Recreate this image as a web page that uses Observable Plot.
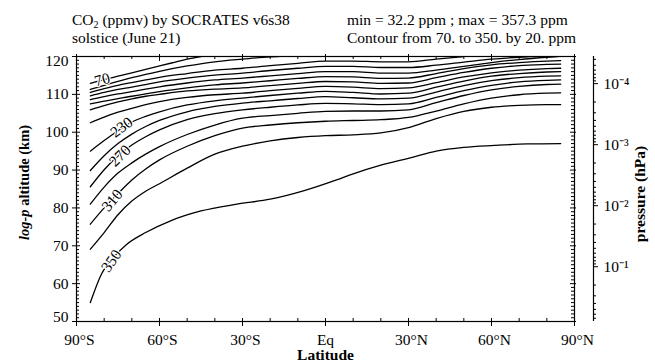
<!DOCTYPE html>
<html><head><meta charset="utf-8">
<script src="https://cdn.jsdelivr.net/npm/d3@7"></script>
<script src="https://cdn.jsdelivr.net/npm/@observablehq/plot@0.6"></script>
<style>
body{margin:0;background:#fff;font-family:'Liberation Serif',serif;}
#wrap{position:relative;width:655px;height:362px;overflow:hidden;}
#chart{position:absolute;left:0;top:0;}
.hd{position:absolute;font-size:15.5px;line-height:18px;color:#000;white-space:nowrap;z-index:2;}
.hd sub{font-size:10px;line-height:0;vertical-align:-3px;}
</style></head><body>
<div id="wrap">
<div id="chart"></div>
<div class="hd" style="left:72px;top:11px">CO<sub>2</sub> (ppmv) by SOCRATES v6s38<br>solstice (June 21)</div>
<div class="hd" style="left:347px;top:11px">min = 32.2 ppm ; max = 357.3 ppm<br>Contour from 70. to 350. by 20. ppm</div>
</div>
<script>
// ---- data ----
const latDomain = [-90, 90];
const altDomain = [50, 120];
const levels = [70, 90, 110, 130, 150, 170, 190, 210, 230, 250, 270, 290, 310, 330, 350];

const c70 = [[-85,112.9],[-80,113.9],[-75,114.8],[-70,115.7],[-65,116.6],[-60,117.5],[-55,118.4],[-50,119.3],[-45,120.0]];
const c90 = [[-85,111.3],[-80,112.4],[-75,113.4],[-70,114.4],[-65,115.3],[-60,116.1],[-50,117.5],[-40,118.6],[-30,119.3],[-20,119.9],[-17,120.0]];
const c110 = [[-85,110.5],[-80,111.5],[-75,112.4],[-70,113.1],[-65,113.8],[-60,114.5],[-50,115.5],[-40,116.4],[-30,116.9],[-20,117.6],[-10,118.2],[0,118.8],[10,118.8],[20,118.6],[30,118.6],[40,119.3],[50,120.0]];
const c130 = [[-85,109.6],[-80,110.5],[-75,111.3],[-70,111.9],[-65,112.6],[-60,113.3],[-50,114.3],[-40,115.1],[-30,115.6],[-20,116.3],[-10,116.9],[0,117.4],[10,117.4],[20,117.1],[30,117.1],[40,117.7],[50,118.5],[60,119.3],[70,119.8],[76,120.0]];
const c150 = [[-85,108.6],[-80,109.4],[-75,110.1],[-70,110.7],[-65,111.4],[-60,112.0],[-50,113.0],[-40,113.8],[-30,114.3],[-20,114.9],[-10,115.5],[0,116.0],[10,116.0],[20,115.6],[30,115.6],[40,116.4],[50,117.4],[60,118.4],[70,119.2],[80,119.8],[84,120.0]];
const c170 = [[-85,107.5],[-80,108.2],[-75,108.9],[-70,109.5],[-65,110.1],[-60,110.7],[-50,111.7],[-40,112.5],[-30,113.0],[-20,113.6],[-10,114.2],[0,114.7],[10,114.6],[20,114.2],[30,114.3],[40,115.5],[50,116.8],[60,117.8],[70,118.4],[80,118.8],[85,118.9]];
const c190 = [[-85,105.9],[-80,107.0],[-75,108.0],[-70,108.8],[-65,109.5],[-60,110.0],[-50,110.9],[-40,111.4],[-30,111.7],[-20,112.3],[-10,112.9],[0,113.4],[10,113.3],[20,112.9],[30,113.0],[40,114.4],[50,115.8],[60,116.9],[70,117.6],[80,117.9],[85,118.0]];
const c210 = [[-85,102.5],[-80,104.0],[-75,105.3],[-70,106.3],[-65,107.3],[-60,108.1],[-50,109.2],[-40,109.9],[-30,110.3],[-20,111.0],[-10,111.6],[0,112.1],[10,111.9],[20,111.5],[30,111.7],[40,113.1],[50,114.6],[60,115.7],[70,116.4],[80,116.8],[85,116.9]];
const c230 = [[-85,95.0],[-80,97.8],[-75,100.4],[-70,102.7],[-65,104.2],[-60,105.4],[-50,107.2],[-40,108.3],[-30,109.0],[-20,109.7],[-10,110.3],[0,110.8],[10,110.5],[20,110.1],[30,110.3],[40,111.9],[50,113.5],[60,114.8],[70,115.5],[80,115.9],[85,116.0]];
const c250 = [[-85,89.9],[-80,93.8],[-75,97.0],[-70,99.5],[-65,101.5],[-60,103.1],[-50,105.4],[-40,106.8],[-30,107.7],[-20,108.3],[-10,108.9],[0,109.4],[10,109.1],[20,108.8],[30,109.0],[40,110.6],[50,112.3],[60,113.6],[70,114.4],[80,114.8],[85,114.9]];
const c270 = [[-85,85.6],[-80,90.1],[-75,93.7],[-70,96.6],[-65,98.8],[-60,100.6],[-50,103.3],[-40,104.9],[-30,105.9],[-20,106.6],[-10,107.2],[0,107.6],[10,107.5],[20,107.3],[30,107.5],[40,109.2],[50,111.0],[60,112.4],[70,113.3],[80,113.7],[85,113.8]];
const c290 = [[-85,81.0],[-80,85.5],[-75,89.2],[-70,91.9],[-65,94.2],[-60,96.2],[-50,99.4],[-40,101.9],[-30,103.7],[-20,104.4],[-10,105.0],[0,105.5],[10,105.6],[20,105.6],[30,105.9],[40,107.8],[50,109.7],[60,111.2],[70,112.1],[80,112.6],[85,112.7]];
const c310 = [[-85,75.7],[-80,80.0],[-75,83.8],[-70,87.4],[-65,90.3],[-60,92.7],[-50,96.3],[-40,99.1],[-30,101.1],[-20,101.9],[-10,102.5],[0,102.9],[10,103.1],[20,103.3],[30,103.9],[40,105.6],[50,107.5],[60,109.0],[70,109.9],[80,110.3],[85,110.4]];
const c330 = [[-85,69.1],[-80,73.5],[-75,78.2],[-70,81.8],[-65,84.4],[-60,86.4],[-50,90.5],[-40,94.2],[-30,96.3],[-20,97.7],[-10,98.6],[0,99.1],[10,99.3],[20,99.8],[30,101.2],[40,103.6],[50,105.5],[60,106.6],[70,107.1],[80,107.3],[85,107.3]];
const c350 = [[-85,55.0],[-81,62.5],[-76.5,67.0],[-72,70.3],[-65,73.5],[-56,76.6],[-45,79.2],[-32,81.0],[-20,82.3],[-8,84.5],[4,87.4],[10,89.0],[20,91.3],[31,93.3],[40,95.0],[50,96.0],[61,96.5],[73,96.9],[85,97.0]];
const contourLines = [c70,c90,c110,c130,c150,c170,c190,c210,c230,c250,c270,c290,c310,c330,c350];

const labelLevels = [70, 230, 270, 310, 350];
const labelLats   = [-80.7, -73.7, -74.3, -77.1, -77.4];
const labelAlts   = [113.9, 101.3, 93.8, 82.0, 66.0];
const labelAngles = [-15, -37, -45, -50, -55];

const latTicks = [-90, -60, -30, 0, 30, 60, 90];
const latTickLabels = ["90°S", "60°S", "30°S", "Eq", "30°N", "60°N", "90°N"];
const latMinor = [-80, -70, -50, -40, -20, -10, 10, 20, 40, 50, 70, 80];
const altTicks = [50, 60, 70, 80, 90, 100, 110, 120];
const altMinor = d3.range(51, 120).filter(v => v % 10 !== 0);
const pMajor = [1e-4, 1e-3, 1e-2, 1e-1];
const pLabels = ["10⁻⁴", "10⁻³", "10⁻²", "10⁻¹"];
const pMinor = [4e-5,5e-5,6e-5,7e-5,8e-5,9e-5, 2e-4,3e-4,4e-4,5e-4,6e-4,7e-4,8e-4,9e-4,
                2e-3,3e-3,4e-3,5e-3,6e-3,7e-3,8e-3,9e-3, 2e-2,3e-2,4e-2,5e-2,6e-2,7e-2,8e-2,9e-2,
                0.2,0.3,0.4,0.5,0.6,0.7];
const scaleHeight = 7; // km, log-p altitude = H ln(1000 hPa / p)
const pAlt = p => scaleHeight * Math.log(1000 / p);

// ---- build ----
const contourData = contourLines.flatMap((pts, i) => pts.map(([lat, alt]) => ({level: levels[i], lat, alt})));
const labelData = labelLevels.map((level, i) => ({level, lat: labelLats[i], alt: labelAlts[i], angle: labelAngles[i]}));
const yTopEdge = () => altDomain[1], yBotEdge = () => altDomain[0], xLeftEdge = () => latDomain[0], xRightEdge = () => latDomain[1];
const pOffset = 19;
const fs = 15.5;
const mid = {textAnchor: "middle", lineAnchor: "middle"};

const plot = Plot.plot({
  width: 655, height: 362,
  marginTop: 56, marginBottom: 41, marginLeft: 76, marginRight: 81,
  style: {fontFamily: "'Liberation Serif', serif", fontSize: fs + "px", background: "transparent"},
  x: {domain: latDomain},
  y: {domain: altDomain},
  marks: [
    Plot.line(contourData, {x: "lat", y: "alt", z: "level", stroke: "black", strokeWidth: 1.3, curve: "monotone-x", clip: true}),
    Plot.text(labelData, {x: "lat", y: "alt", text: d => String(d.level), rotate: "angle", fontSize: fs, fill: "black", stroke: "white", strokeWidth: 2.5, ...mid}),
    Plot.frame({stroke: "black", strokeWidth: 1.2}),
    // top ticks (inward)
    Plot.ruleX(latMinor, {x: d => d, y1: yTopEdge, y2: yTopEdge, insetBottom: -3}),
    Plot.ruleX(latTicks, {x: d => d, y1: yTopEdge, y2: yTopEdge, insetBottom: -5, insetTop: -2}),
    // bottom ticks
    Plot.ruleX(latMinor, {x: d => d, y1: yBotEdge, y2: yBotEdge, insetTop: -3}),
    Plot.ruleX(latTicks, {x: d => d, y1: yBotEdge, y2: yBotEdge, insetTop: -3, insetBottom: -5}),
    // left ticks
    Plot.ruleY(altMinor, {y: d => d, x1: xLeftEdge, x2: xLeftEdge, insetRight: -3}),
    Plot.ruleY(altTicks, {y: d => d, x1: xLeftEdge, x2: xLeftEdge, insetRight: -4, insetLeft: -4}),
    // right frame ticks
    Plot.ruleY(altMinor, {y: d => d, x1: xRightEdge, x2: xRightEdge, insetLeft: -3}),
    Plot.ruleY(altTicks, {y: d => d, x1: xRightEdge, x2: xRightEdge, insetLeft: -4, insetRight: -2}),
    // pressure axis
    Plot.ruleX([latDomain[1]], {x: d => d, y1: yBotEdge, y2: yTopEdge, dx: pOffset, strokeWidth: 1.2}),
    Plot.ruleY(pMajor, {y: pAlt, x1: xRightEdge, x2: xRightEdge, dx: pOffset, insetRight: -5}),
    Plot.ruleY(pMinor, {y: pAlt, x1: xRightEdge, x2: xRightEdge, dx: pOffset, insetRight: -3}),
    Plot.text(pMajor, {x: xRightEdge, y: pAlt, text: (d, i) => pLabels[i], dx: pOffset + 10, textAnchor: "start", lineAnchor: "middle", fontSize: fs}),
    // axis tick labels
    Plot.axisY(altTicks.filter(v => v > 50 && v < 120), {anchor: "left", tickSize: 0, tickPadding: 8, label: null}),
    Plot.axisY([120], {anchor: "left", tickSize: 0, tickPadding: 8, dy: 5, label: null}),
    Plot.axisY([50], {anchor: "left", tickSize: 0, tickPadding: 8, dy: -4, label: null}),
    Plot.axisX(latTicks.filter(v => v !== 0), {anchor: "bottom", tickSize: 0, tickPadding: 12, dx: 3, label: null,
      tickFormat: d => latTickLabels[latTicks.indexOf(d)]}),
    Plot.axisX([0], {anchor: "bottom", tickSize: 0, tickPadding: 12, label: null,
      tickFormat: d => latTickLabels[latTicks.indexOf(d)]}),
    // axis titles
    Plot.text(["Latitude"], {frameAnchor: "bottom", dy: 34, fontWeight: "bold", fontSize: fs, ...mid}),
    Plot.text(["log-p altitude (km)"], {frameAnchor: "left", dx: -52, dy: -6.5, rotate: -90, fontWeight: "bold", fontSize: 14.5, ...mid}),
    Plot.text(["pressure (hPa)"], {frameAnchor: "right", dx: 66, dy: 5, rotate: -90, fontWeight: "bold", fontSize: fs, ...mid})
  ]
});

d3.select(plot).selectAll("text")
  .filter(function () { return this.textContent === "log-p altitude (km)"; })
  .each(function () {
    const t = d3.select(this);
    t.text(null);
    t.append("tspan").attr("font-style", "italic").text("log-p");
    t.append("tspan").text(" altitude (km)");
  });

document.getElementById("chart").appendChild(plot);
</script>
</body></html>
